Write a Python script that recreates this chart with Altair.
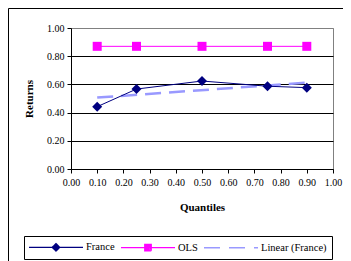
import altair as alt
import pandas as pd

quantiles = [0.10, 0.25, 0.50, 0.75, 0.90]
france = [0.442, 0.567, 0.624, 0.587, 0.577]
ols = [0.870, 0.870, 0.870, 0.870, 0.870]
x_ticks = [0.0, 0.1, 0.2, 0.3, 0.4, 0.5, 0.6, 0.7, 0.8, 0.9, 1.0]
y_ticks = [0.0, 0.2, 0.4, 0.6, 0.8, 1.0]
series = ["France", "OLS", "Linear (France)"]
series_colors = ["#000080", "#FF00FF", "#9999FF"]

FONT = "Liberation Serif"

df_fr = pd.DataFrame({"q": quantiles, "r": france})
df_ols = pd.DataFrame({"q": quantiles, "r": ols})
df_leg = pd.DataFrame({"series": series})

xs = alt.Scale(domain=[0, 1], nice=False, zero=False)
ys = alt.Scale(domain=[0, 1], nice=False)

x_axis = alt.Axis(values=x_ticks, format=".2f", title="Quantiles", grid=False,
                  tickSize=4, labelPadding=4, titlePadding=14, labelOverlap=False,
                  labelFlush=False, domainColor="black", tickColor="black")
y_axis = alt.Axis(values=y_ticks, format=".2f", title="Returns", grid=True,
                  gridColor={"condition": {"test": "datum.value >= 1", "value": "#808080"}, "value": "black"},
                  tickSize=4, labelPadding=3, titlePadding=12, labelOverlap=False,
                  labelFlush=False, domainColor="black", tickColor="black")

X = alt.X("q:Q", scale=xs, axis=x_axis)
Y = alt.Y("r:Q", scale=ys, axis=y_axis)

fr_line = alt.Chart(df_fr).mark_line(color="#000080", strokeWidth=1).encode(x=X, y=Y)
fr_pts = alt.Chart(df_fr).mark_point(shape="diamond", filled=True, size=100,
                                      color="#000080", opacity=1).encode(x=X, y=Y)
ols_line = alt.Chart(df_ols).mark_line(color="#FF00FF", strokeWidth=1).encode(x=X, y=Y)
ols_pts = alt.Chart(df_ols).mark_square(size=81, color="#FF00FF", opacity=1).encode(x=X, y=Y)
trend = alt.Chart(df_fr).transform_regression("q", "r").mark_line(
    color="#9999FF", strokeWidth=2.5, strokeDash=[16, 8]).encode(x=X, y=Y)

line_p = "M-5.4,0H5.4"
diamond_p = line_p + "".join(
    f" M0,-{r}L{r},0L0,{r}L-{r},0Z" for r in ["0.75", "0.55", "0.35", "0.15"])
square_p = line_p + "".join(
    f" M-{r},-{r}H{r}V{r}H-{r}Z" for r in ["0.65", "0.45", "0.25", "0.05"])

leg = alt.Legend(title=None, orient="none", legendX=-47, legendY=208, direction="horizontal",
                 strokeColor="black", fillColor="white", padding=5, columnPadding=3,
                 symbolSize=100, symbolOffset=21, labelOffset=24, symbolStrokeWidth=1.3,
                 labelFont=FONT, labelFontSize=10.5, labelColor="black", symbolOpacity=1)

legend_layer = alt.Chart(df_leg).transform_filter("false").mark_point(filled=False).encode(
    color=alt.Color("series:N", scale=alt.Scale(domain=series, range=series_colors), legend=leg),
    shape=alt.Shape("series:N", scale=alt.Scale(domain=series, range=[diamond_p, square_p, line_p]), legend=leg),
    strokeDash=alt.StrokeDash("series:N", scale=alt.Scale(domain=series, range=[[1, 0], [1, 0], [16, 9]]), legend=leg),
)

frame_top = alt.Chart(alt.Data(values=[{}])).mark_rule(color="black", strokeWidth=1).encode(
    x=alt.value(-62.5), x2=alt.value(274), y=alt.value(-19.5))
frame_left = alt.Chart(alt.Data(values=[{}])).mark_rule(color="black", strokeWidth=1).encode(
    x=alt.value(-62.5), y=alt.value(-19.5), y2=alt.value(240))

chart = alt.layer(frame_top, frame_left, trend, fr_line, ols_line, fr_pts, ols_pts, legend_layer).properties(
    width=262, height=141,
    padding={"left": 63, "top": 20, "right": 10, "bottom": 93},
    autosize=alt.AutoSizeParams(type="none"),
    background="white",
).configure_view(
    fill="#C0C0C0", stroke="#808080", strokeWidth=1
).configure_axis(
    labelFont=FONT, labelFontSize=10, labelColor="black",
    titleFont=FONT, titleFontSize=11, titleFontWeight="bold", titleColor="black",
)

chart.save("out.html", embed_options={"renderer": "svg", "actions": False})
